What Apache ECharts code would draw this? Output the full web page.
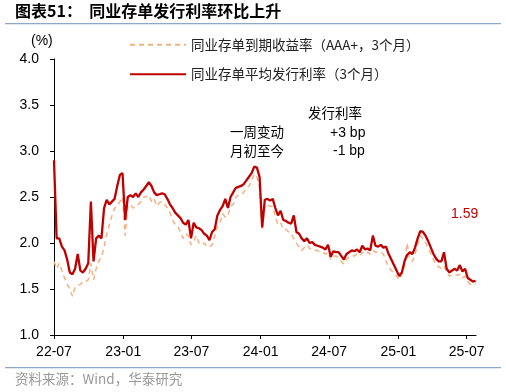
<!DOCTYPE html>
<html><head><meta charset="utf-8">
<script src="https://cdn.jsdelivr.net/npm/echarts@6/dist/echarts.min.js"></script>
<style>html,body{margin:0;padding:0;background:#fff}#c{width:506px;height:392px}</style>
</head><body><div id="c"></div>
<script>
// weekly observations starting 2022-07-01
var startDate = '2022-07-01';
var stepDays = 7;
var tickLabels = ['22-07','23-01','23-07','24-01','24-07','25-01','25-07'];
var tickDates = ['2022-07-01','2023-01-01','2023-07-01','2024-01-01','2024-07-01','2025-01-01','2025-07-01'];
var endDate = '2025-07-26';
var seriesNames = ['同业存单到期收益率（AAA+，3个月）','同业存单平均发行利率（3个月）'];
var issueRate = [
2.90,2.05,2.05,1.96,1.92,1.82,1.68,1.66,1.72,1.88,1.70,1.68,1.72,1.78,2.45,1.80,2.05,2.08,2.05,2.38,
2.47,2.42,2.45,2.48,2.62,2.74,2.76,2.25,2.50,2.52,2.50,2.54,2.50,2.55,2.58,2.62,2.66,2.62,2.55,2.52,
2.53,2.54,2.53,2.48,2.42,2.38,2.33,2.30,2.27,2.22,2.20,2.25,2.05,2.22,2.17,2.16,2.14,2.10,2.08,2.03,
2.12,2.15,2.30,2.36,2.40,2.48,2.38,2.50,2.55,2.60,2.61,2.62,2.64,2.68,2.72,2.76,2.83,2.82,2.72,2.17,
2.47,2.48,2.46,2.48,2.38,2.30,2.35,2.25,2.24,2.22,2.21,2.30,2.12,2.10,2.05,2.02,2.05,2.00,2.01,1.98,
1.97,1.96,1.95,1.93,1.98,1.85,1.91,1.90,1.90,1.86,1.82,1.88,1.90,1.92,1.91,1.93,1.90,1.97,1.93,1.94,
1.92,2.08,1.97,1.96,1.98,1.95,1.96,1.88,1.82,1.76,1.70,1.64,1.68,1.80,1.87,1.90,1.88,1.95,2.05,2.13,
2.12,2.08,2.02,1.95,1.88,1.83,1.80,1.80,1.90,1.72,1.68,1.70,1.72,1.70,1.76,1.69,1.72,1.62,1.60,1.58,
1.59];
var ytm = [
1.80,1.72,1.78,1.70,1.62,1.55,1.50,1.42,1.52,1.54,1.55,1.58,1.58,1.60,1.78,1.60,1.72,1.80,1.85,1.95,
2.10,2.20,2.30,2.38,2.40,2.45,2.50,2.08,2.40,2.42,2.38,2.40,2.42,2.45,2.50,2.50,2.52,2.45,2.48,2.40,
2.44,2.45,2.42,2.38,2.33,2.25,2.20,2.18,2.12,2.05,2.10,2.08,1.98,2.02,2.08,2.00,1.98,2.00,1.96,1.96,
1.98,2.08,2.18,2.22,2.32,2.28,2.30,2.40,2.42,2.50,2.52,2.52,2.55,2.60,2.62,2.68,2.75,2.72,2.60,2.15,
2.40,2.42,2.40,2.40,2.28,2.20,2.22,2.15,2.15,2.12,2.10,2.05,2.00,1.95,1.92,1.95,1.98,1.94,1.93,1.92,
1.92,1.90,1.90,1.88,1.90,1.82,1.85,1.86,1.84,1.80,1.77,1.82,1.85,1.86,1.86,1.88,1.86,1.90,1.88,1.90,
1.88,1.92,1.90,1.90,1.90,1.88,1.80,1.74,1.70,1.68,1.64,1.60,1.66,1.75,2.00,1.82,1.80,1.88,1.98,2.08,
2.05,2.00,1.95,1.88,1.82,1.76,1.74,1.72,1.75,1.68,1.64,1.65,1.66,1.65,1.66,1.62,1.64,1.58,1.55,1.55,
1.56];
var latestLabel = '1.59';

function dayOf(s){ return Math.round((Date.parse(s) - Date.parse(startDate)) / 86400000); }
var tickDays = tickDates.map(dayOf);
var labelMap = {}; tickDays.forEach(function(d,i){ labelMap[d] = tickLabels[i]; });
function pairs(arr){ return arr.map(function(v,i){ return [i*stepDays, v]; }); }

var chart = echarts.init(document.getElementById('c'));
var latin = 'Liberation Sans, Arial, sans-serif';
var cjk = '"Noto Sans CJK SC", sans-serif';
chart.setOption({
  animation: false,
  grid: {left: 54, right: 30, top: 59, bottom: 57},
  legend: {
    orient: 'vertical', left: 124, top: 33, itemGap: 16, itemWidth: 56, itemHeight: 16,
    itemStyle: {opacity: 0},
    textStyle: {fontFamily: cjk, fontSize: 13.5, color: '#222'},
    data: seriesNames
  },
  xAxis: {
    type: 'value', min: 0, max: dayOf(endDate),
    axisLine: {lineStyle: {color: '#000', width: 1}},
    axisTick: {show: true, length: 4, lineStyle: {color: '#000'}, customValues: tickDays},
    axisLabel: {customValues: tickDays, formatter: function(v){ return labelMap[v] || ''; },
      color: '#000', fontFamily: latin, fontSize: 14, margin: 10},
    splitLine: {show: false}
  },
  yAxis: {
    type: 'value', min: 1, max: 4, interval: 0.5,
    axisLine: {show: true, lineStyle: {color: '#000', width: 1}},
    axisTick: {show: true, length: 4, lineStyle: {color: '#000'}},
    axisLabel: {formatter: function(v){ return v.toFixed(1); }, color: '#000', fontFamily: latin, fontSize: 14, margin: 15},
    splitLine: {show: false}
  },
  series: [
    {name: seriesNames[0], type: 'line', symbol: 'none', data: pairs(ytm),
     lineStyle: {color: '#F4B183', width: 1.5, type: [5,4]}, itemStyle: {color: '#F4B183'}, z: 2},
    {name: seriesNames[1], type: 'line', symbol: 'none', data: pairs(issueRate),
     lineStyle: {color: '#C00000', width: 2.3}, itemStyle: {color: '#C00000'}, z: 3}
  ],
  graphic: [
    {type: 'text', left: 15, top: 3, style: {text: '图表51：  同业存单发行利率环比上升', font: 'bold 16px "Noto Sans CJK SC", sans-serif', fill: '#000'}},
    {type: 'rect', shape: {x: 5, y: 23, width: 496, height: 1.2}, style: {fill: '#8EA9C8'}},
    {type: 'rect', shape: {x: 5, y: 367, width: 496, height: 1.2}, style: {fill: '#8EA9C8'}},
    {type: 'text', left: 15, top: 372, style: {text: '资料来源：Wind，华泰研究', font: '13.5px "Noto Sans CJK SC", sans-serif', fill: '#999'}},
    {type: 'text', left: 31, top: 34, style: {text: '(%)', font: '14px Liberation Sans, Arial, sans-serif', fill: '#000'}},
    {type: 'text', left: 308, top: 106, style: {text: '发行利率', font: '13.5px "Noto Sans CJK SC", sans-serif', fill: '#000'}},
    {type: 'text', left: 230, top: 125, style: {text: '一周变动', font: '13.5px "Noto Sans CJK SC", sans-serif', fill: '#000'}},
    {type: 'text', left: 230, top: 144, style: {text: '月初至今', font: '13.5px "Noto Sans CJK SC", sans-serif', fill: '#000'}},
    {type: 'text', left: 330, top: 126, style: {text: '+3 bp', font: '14px Liberation Sans, Arial, sans-serif', fill: '#000'}},
    {type: 'text', left: 333, top: 144, style: {text: '-1 bp', font: '14px Liberation Sans, Arial, sans-serif', fill: '#000'}},
    {type: 'text', left: 451, top: 207, style: {text: latestLabel, font: '14px Liberation Sans, Arial, sans-serif', fill: '#C00000'}}
  ]
});
</script></body></html>
